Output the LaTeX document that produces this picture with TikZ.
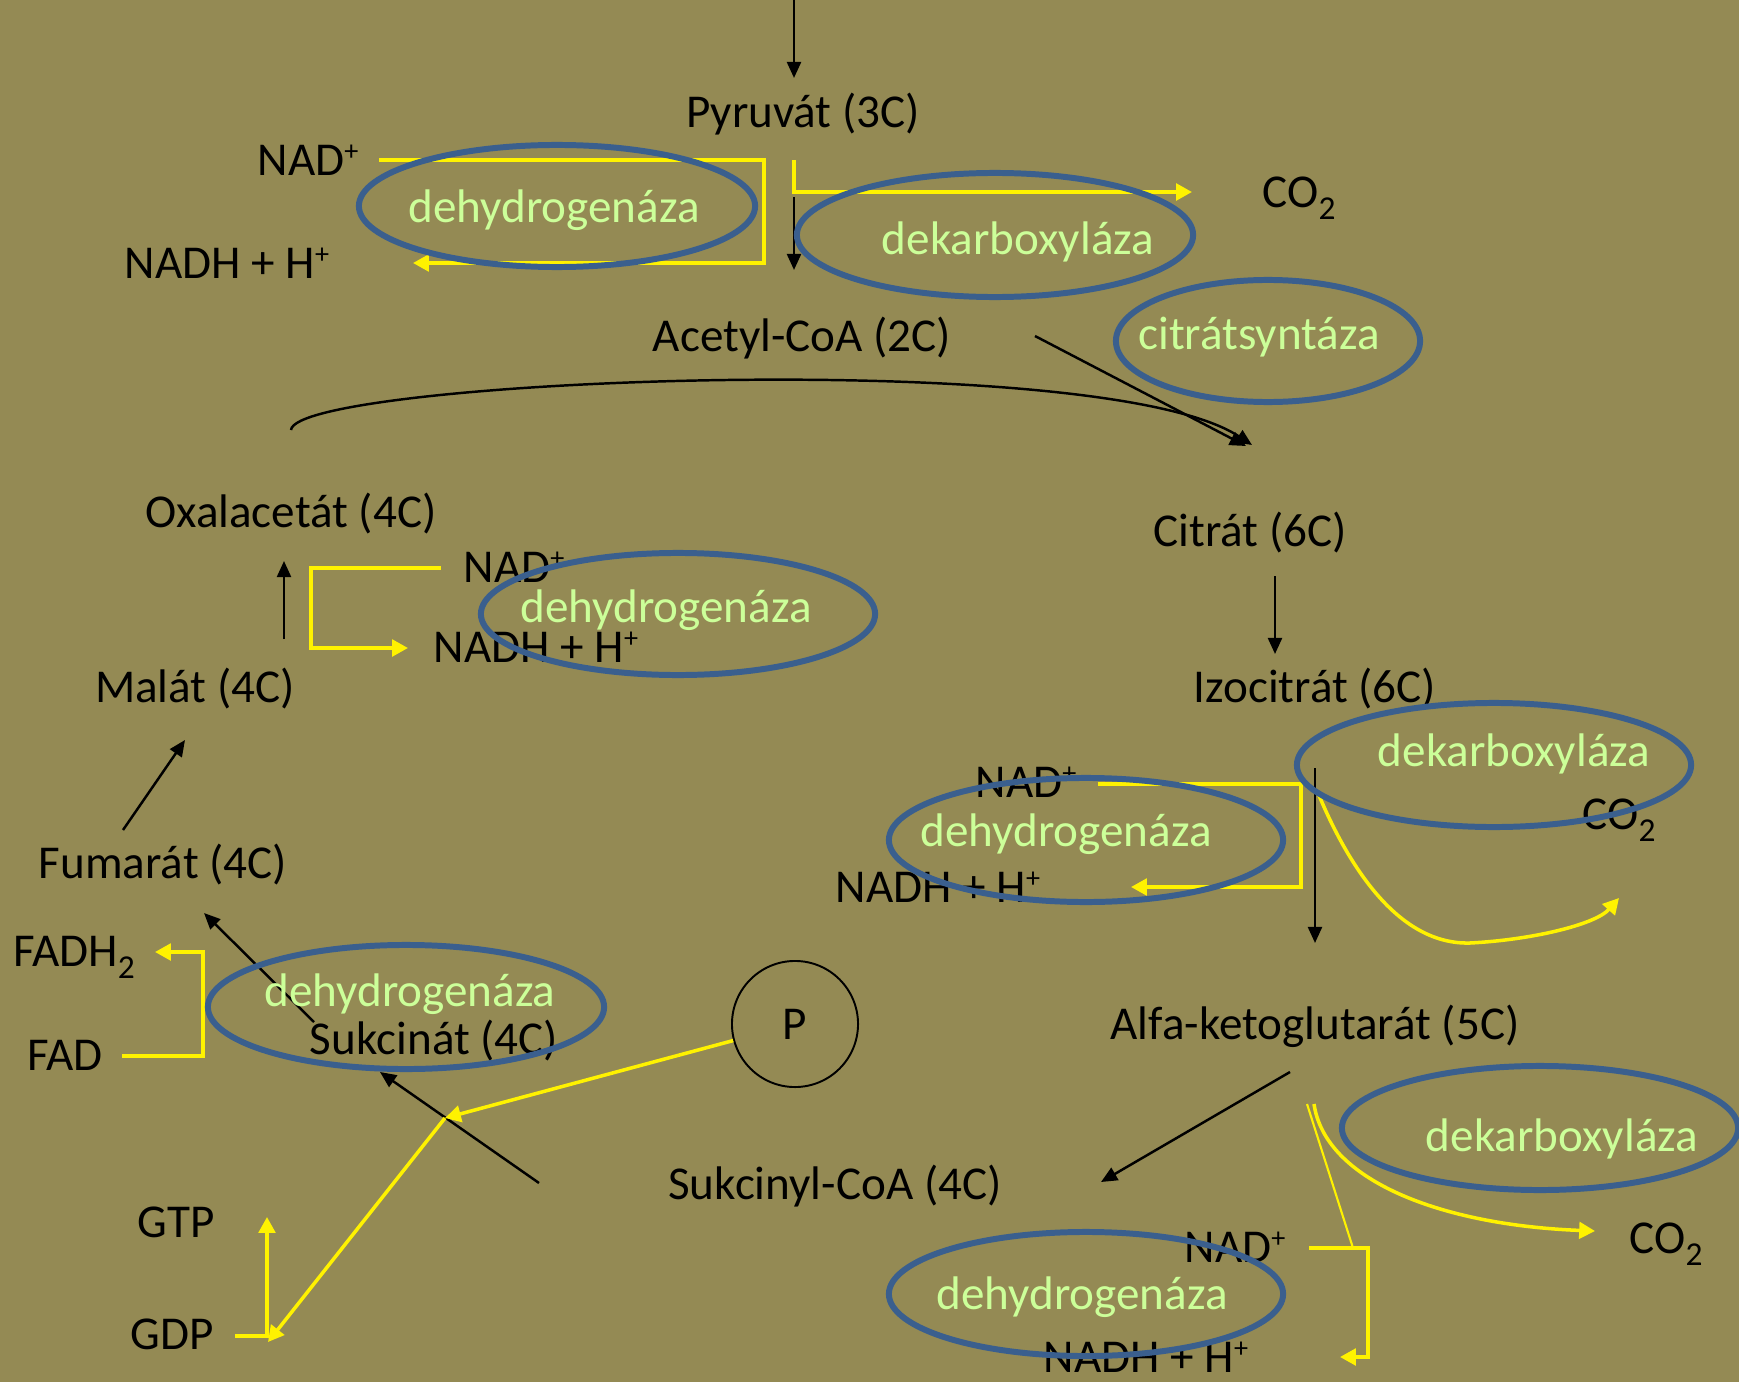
\documentclass[tikz,border=0pt]{standalone}
\usepackage{fontspec}
\setmainfont{Carlito}
\usepackage{tikz}
\usetikzlibrary{arrows.meta,calc,shapes.geometric}

\definecolor{bgolive}{HTML}{948A54}
\definecolor{ringblue}{HTML}{3A5F8E}
\definecolor{enzgreen}{HTML}{CCFF99}

\newcommand\ionplus{\raisebox{4.4pt}{\fontsize{8}{8}\selectfont +}}
\newcommand\subtwo{\raisebox{-3.4pt}{\fontsize{9.5}{9.5}\selectfont 2}}

\tikzset{
  chem/.style={inner sep=0pt,text height=10pt,text depth=2.7pt},
  enz/.style={chem,text=enzgreen},
  ring/.style={ellipse,draw=ringblue,line width=1.7pt,inner sep=0pt},
  flow/.style={-{Triangle[length=4.6pt,width=4pt]},line width=.7pt},
  cofac/.style={yellow,line width=1pt,-{Triangle[length=4.5pt,width=4.7pt]}},
}

\begin{document}
\begin{tikzpicture}[x=0.01cm,y=-0.01cm,font=\fontsize{13.4}{16}\selectfont]
    \fill [bgolive] (0,0) rectangle (1739,1382);
    \useasboundingbox (0,0) rectangle (1739,1382);

    % cycle
    \node [chem] (pyr) at (803,115) {Pyruvát (3C)};
    \node [chem] (acoa) at (802,339) {Acetyl-CoA (2C)};
    \node [chem] (cit) at (1250,534) {Citrát (6C)};
    \node [chem] (izo) at (1315,690) {Izocitrát (6C)};
    \node [chem] (akg) at (1315,1027) {Alfa-ketoglutarát (5C)};
    \node [chem] (scoa) at (835,1187) {Sukcinyl-CoA (4C)};
    \node [chem] (suc) at (434,1042) {Sukcinát (4C)};
    \node [chem] (fum) at (163,866) {Fumarát (4C)};
    \node [chem] (mal) at (195,690) {Malát (4C)};
    \node [chem] (oaa) at (291,515) {Oxalacetát (4C)};

    % cofactors
    \node [chem] (nad1) at (308,163) {NAD\ionplus};
    \node [chem] (nadh1) at (227,266) {NADH + H\ionplus};
    \node [chem] (co2a) at (1299,195) {CO\subtwo};
    \node [chem] (nad2) at (514,570) {NAD\ionplus};
    \node [chem] (nadh2) at (536,650) {NADH + H\ionplus};
    \node [chem] (nad3) at (1026,785) {NAD\ionplus};
    \node [chem] (nadh3) at (938,890) {NADH + H\ionplus};
    \node [chem] (co2b) at (1619,817) {CO\subtwo};
    \node [chem] (nad4) at (1235,1250) {NAD\ionplus};
    \node [chem] (nadh4) at (1146,1360) {NADH + H\ionplus};
    \node [chem] (co2c) at (1666,1241) {CO\subtwo};
    \node [chem] (fadh) at (74,954) {FADH\subtwo};
    \node [chem] (fad) at (65,1058) {FAD};
    \node [chem] (gtp) at (176,1225) {GTP};
    \node [chem] (gdp) at (172,1337) {GDP};
    \node [draw,circle,inner sep=0pt,minimum size=1.26cm,line width=.55pt] (pho) at (795,1024) {P};

    \coordinate (feed) at (794,0);
    \coordinate (citin) at ($(cit)+(-4,-88)$);
    \coordinate (junc) at ($(suc)+(11,76)$);

    \draw [flow] (feed)--($(pyr)+(-9,-37)$);
    \draw [flow] ($(pyr)+(-9,82)$)--($(acoa)+(-8,-69)$);
    \draw [flow] ($(acoa)+(233,-3)$)--(citin);
    \draw [flow] ($(oaa)+(0,-85)$) .. controls (295,380) and (1100,345) .. ($(citin)+(6,-1)$);
    \draw [flow] ($(cit)+(25,42)$)--($(izo)+(-40,-36)$);
    \draw [flow] ($(izo)+(0,78)$)--($(akg)+(0,-84)$);
    \draw [flow] ($(akg)+(-25,45)$)--($(scoa)+(266,-5)$);
    \draw [flow] ($(scoa)+(-296,-4)$)--($(suc)+(-54,30)$);
    \draw [flow] ($(suc)+(-120,-20)$)--($(fum)+(41,47)$);
    \draw [flow] ($(fum)+(-40,-36)$)--($(mal)+(-10,50)$);
    \draw [flow] ($(mal)+(89,-51)$)--($(oaa)+(-7,46)$);

    \draw [cofac] ($(nad1)+(71,-3)$)--++(385,0)|-($(nadh1)+(186,-3)$);
    \draw [cofac] ($(pyr)+(-9,45)$)|-($(co2a)+(-107,-3)$);
    \draw [cofac] ($(nad2)+(-73,-2)$)--++(-130,0)|-($(nadh2)+(-128,-2)$);
    \draw [cofac] ($(nad3)+(72,-1)$)--++(203,0)|-($(nadh3)+(193,-3)$);
    \draw [cofac] ($(izo)+(3,103)$) .. controls (1350,870) and (1400,945) .. (1470,943)
        .. controls (1530,940) and (1595,925) .. ($(co2b)+(0,81)$);
    \draw [cofac] ($(akg)+(-1,77)$) .. controls (1325,1180) and (1440,1225) .. ($(co2c)+(-71,-10)$);
    \draw [cofac,-,line width=.6pt] ($(akg)+(-8,77)$)--($(nad4)+(118,-2)$);
    \draw [cofac] ($(nad4)+(74,-2)$)--++(59,0)|-($(nadh4)+(194,-3)$);
    \draw [cofac] ($(fad)+(57,-2)$)--++(81,0)|-($(fadh)+(81,-2)$);
    \draw [cofac] (pho.195)--(junc);
    \draw [cofac] (junc)--($(gdp)+(96,5)$);
    \draw [cofac] ($(gdp)+(63,-1)$)-|($(gtp)+(91,-8)$);

    % enzymes
    \node [ring,minimum width=3.96cm,minimum height=1.22cm] (pdh) at (557,206) {};
    \node [ring,minimum width=3.96cm,minimum height=1.24cm] (pdc) at (995,235) {};
    \node [ring,minimum width=3.04cm,minimum height=1.22cm] (cs) at (1268,341) {};
    \node [ring,minimum width=3.94cm,minimum height=1.22cm] (mdh) at (678,614) {};
    \node [ring,minimum width=3.94cm,minimum height=1.24cm] (idc) at (1494,765) {};
    \node [ring,minimum width=3.94cm,minimum height=1.24cm] (idh) at (1086,840) {};
    \node [ring,minimum width=3.96cm,minimum height=1.24cm] (kdc) at (1540,1128) {};
    \node [ring,minimum width=3.94cm,minimum height=1.24cm] (kdh) at (1086,1294) {};
    \node [ring,minimum width=3.96cm,minimum height=1.24cm] (sdh) at (406,1007) {};

    \node [enz] (pdh-t) at (554,210) {dehydrogenáza};
    \node [enz] (pdc-t) at (1018,242) {dekarboxyláza};
    \node [enz] (cs-t) at (1259,337) {citrátsyntáza};
    \node [enz] (mdh-t) at (666,610) {dehydrogenáza};
    \node [enz] (idc-t) at (1514,754) {dekarboxyláza};
    \node [enz] (idh-t) at (1066,834) {dehydrogenáza};
    \node [enz] (kdc-t) at (1562,1139) {dekarboxyláza};
    \node [enz] (kdh-t) at (1082,1297) {dehydrogenáza};
    \node [enz] (sdh-t) at (410,994) {dehydrogenáza};
\end{tikzpicture}
\end{document}
